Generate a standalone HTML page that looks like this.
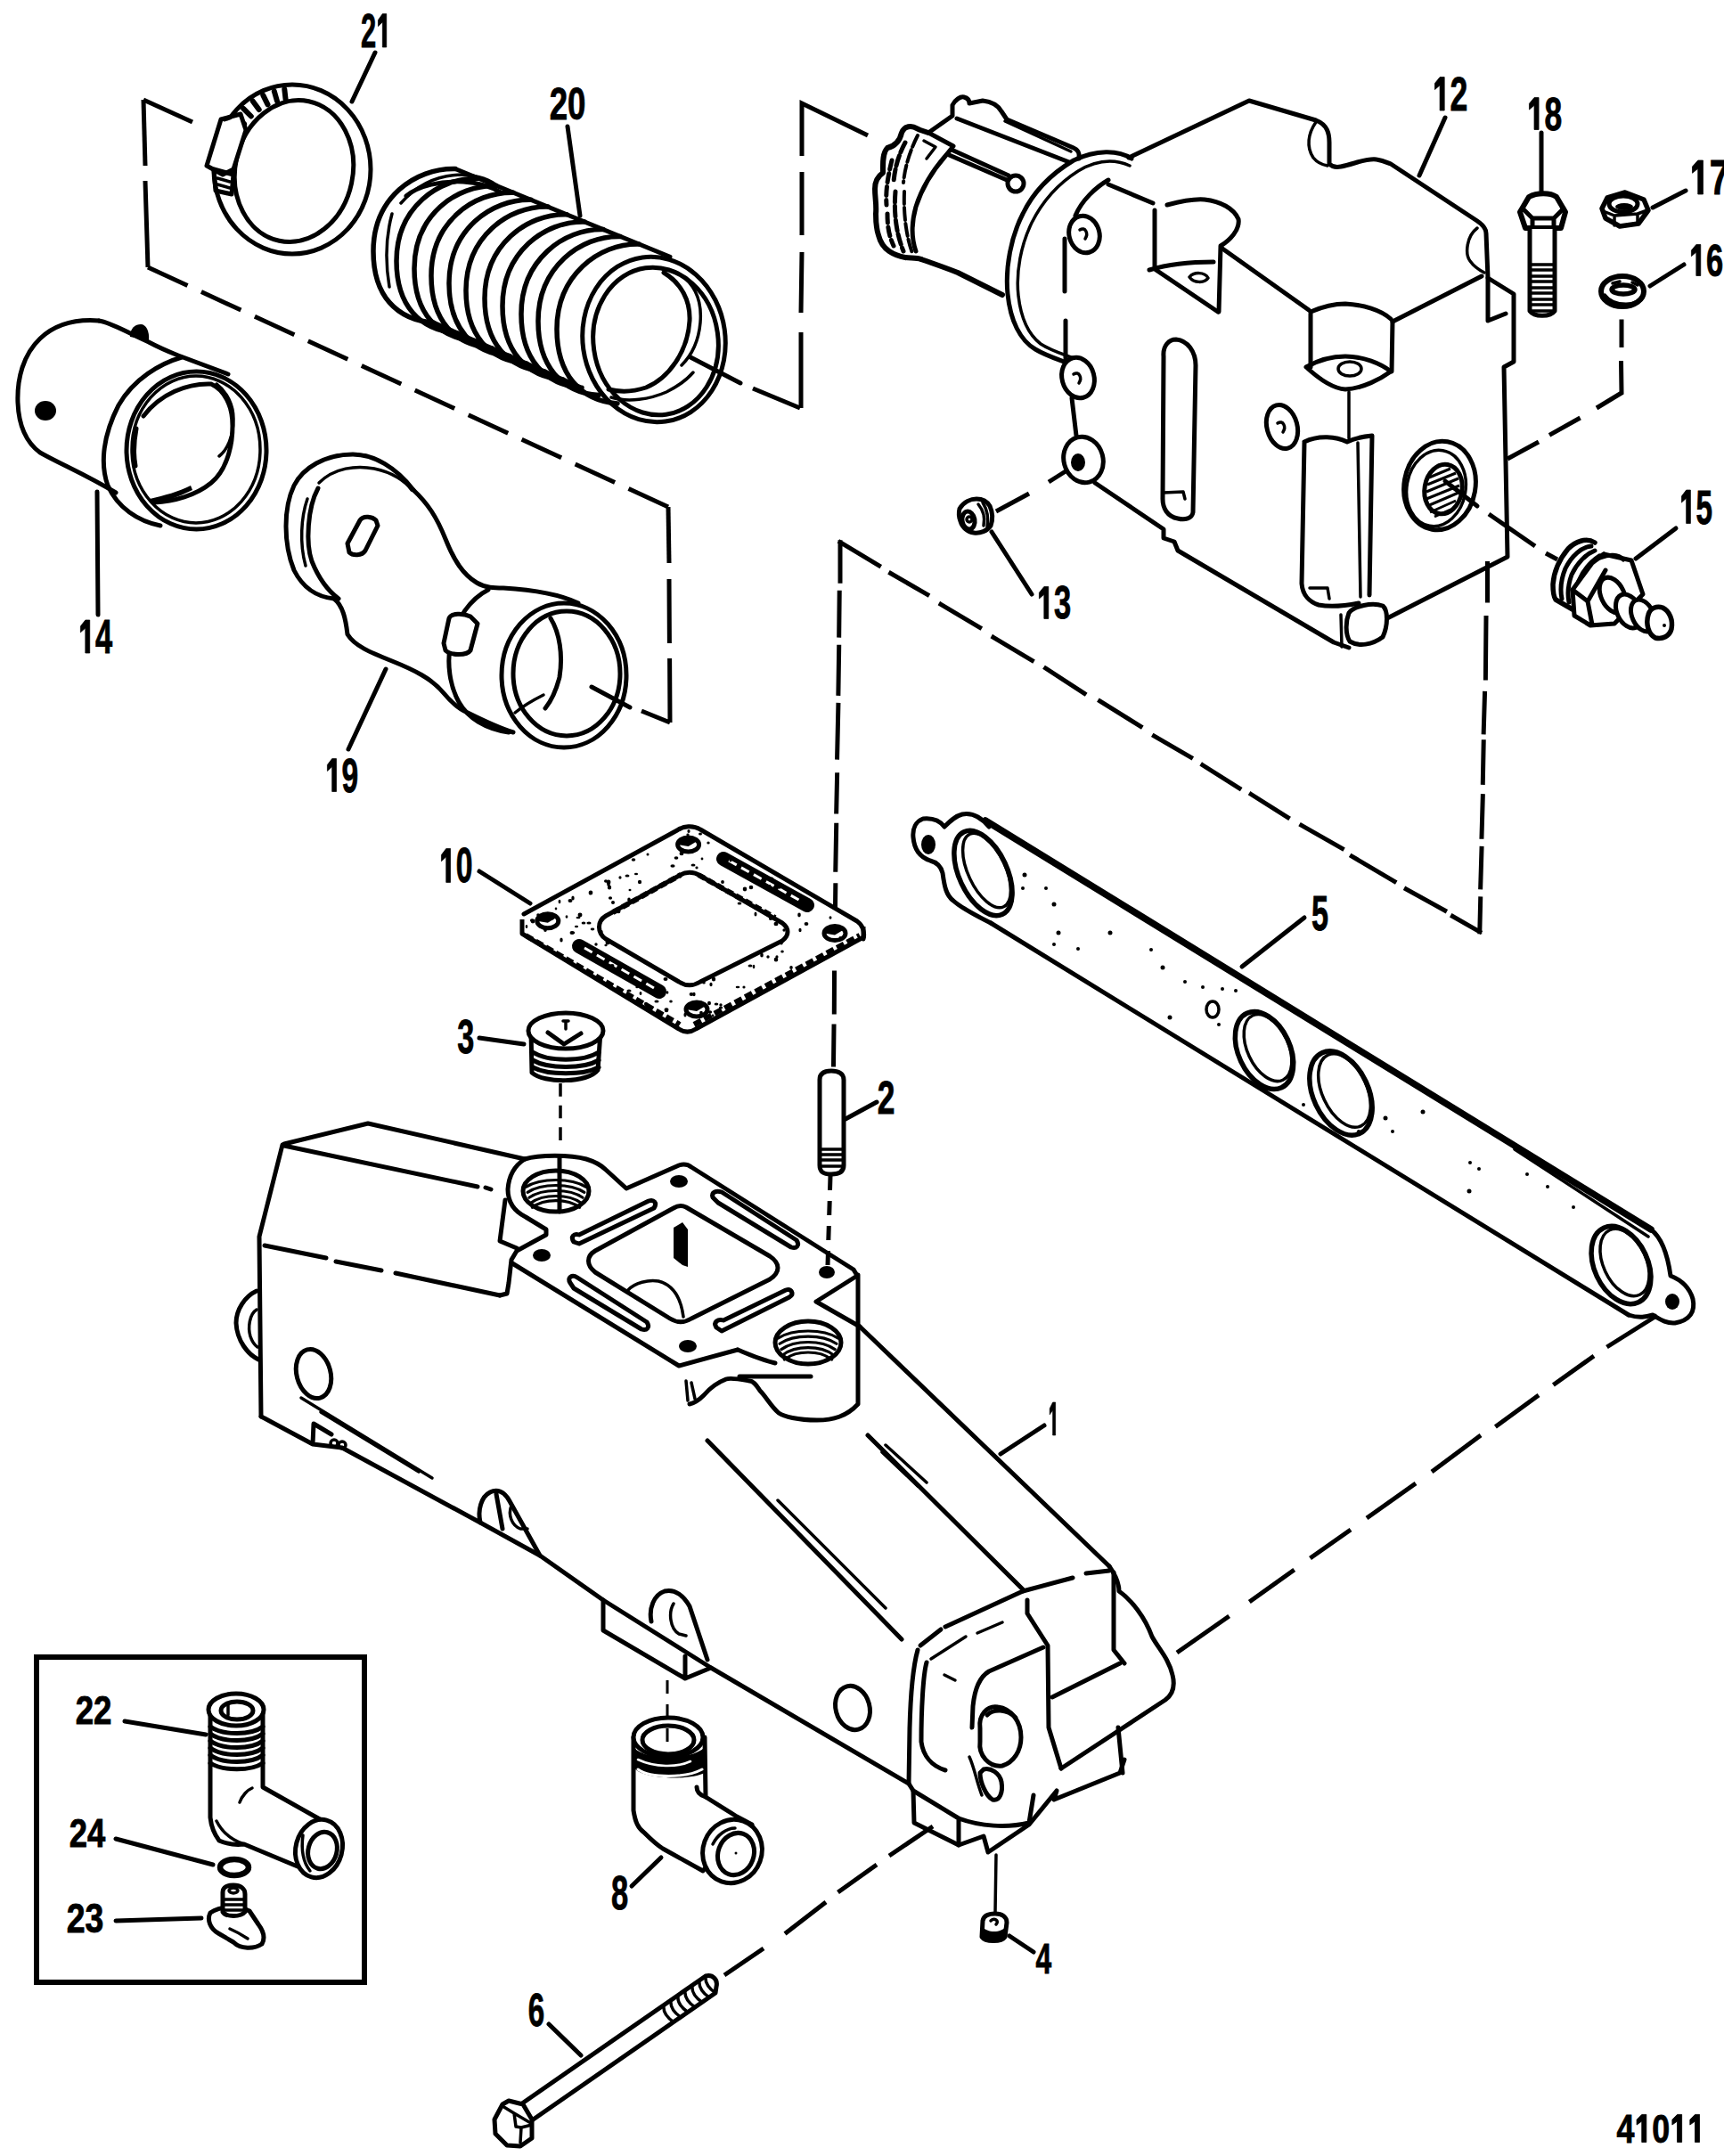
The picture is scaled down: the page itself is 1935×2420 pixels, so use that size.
<!DOCTYPE html>
<html><head><meta charset="utf-8">
<style>
html,body{margin:0;padding:0;background:#fff;width:1935px;height:2420px;overflow:hidden}
svg{display:block}
.l{fill:none;stroke:#000;stroke-width:5;stroke-linecap:round;stroke-linejoin:round}
.t{fill:none;stroke:#000;stroke-width:3.5;stroke-linecap:round;stroke-linejoin:round}
.d{fill:none;stroke:#000;stroke-width:4;stroke-dasharray:40 18}
.f{fill:#000;stroke:none}
.w{fill:#fff;stroke:#000;stroke-width:5;stroke-linejoin:round}
text{font-family:"Liberation Sans",sans-serif;font-weight:bold;fill:#000}
</style></head><body>
<svg width="1935" height="2420" viewBox="0 0 1935 2420">
<!-- 01_clamp21.svg -->
<g id="p21">
<ellipse class="l" cx="328" cy="190" rx="88" ry="95"/>
<ellipse class="w" cx="330" cy="192" rx="66" ry="80" transform="rotate(12 330 192)"/>
<path d="M267.0,150.6 L255.6,144.9 M274.1,139.3 L264.0,132.0 M281.8,130.5 L273.2,121.9 M290.7,123.1 L283.7,113.5 M300.5,117.4 L295.3,106.9 M311.0,113.5 L307.8,102.4 M320.6,111.6 L319.3,100.2" style="fill:none;stroke:#000;stroke-width:6;stroke-linecap:round"/>
<path class="w" d="M232,186 L248,134 L270,128 L276,146 L262,190 L250,196 Z"/>
<path class="l" d="M252,134 L258,132 M240,190 L262,196 L260,218 L242,214 Z"/>
<path class="t" d="M244,200 l14,4 M244,207 l14,4"/>
<path class="l" d="M421,59 L395,114"/>
</g>

<!-- 02_hose20.svg -->
<g id="p20">
<path class="l" d="M511,189.5 L752,288.3"/>
<path class="l" d="M487,362.2 L650,434.0"/>
<path class="l" style="stroke-width:5.5" d="M511.0,189.5 C466.0,188.5 419.0,221.9 419.0,281.9 C419.0,331.9 445.0,359.2 487.0,362.2"/>
<path class="t" d="M450,228 C470,205 495,196 520,196 C540,197 552,203 560,210"/>
<path class="t" d="M440,240 C434,262 432,292 437,322"/>
<path class="l" d="M456,220 C470,208 495,203 520,204 C538,205 552,210 562,216"/>
<path class="l" style="stroke-width:5.5" d="M537.0,200.2 C492.0,199.2 445.0,232.9 445.0,292.9 C445.0,342.9 471.0,370.7 513.0,373.7"/>
<path class="l" style="stroke-width:5.5" d="M557.0,208.4 C512.0,207.4 465.0,241.4 465.0,301.4 C465.0,351.4 491.0,379.5 533.0,382.5"/>
<path class="l" style="stroke-width:5.5" d="M576.0,216.2 C531.0,215.2 484.0,249.5 484.0,309.5 C484.0,359.5 510.0,387.8 552.0,390.8"/>
<path class="l" style="stroke-width:5.5" d="M596.0,224.3 C551.0,223.3 504.0,258.0 504.0,318.0 C504.0,368.0 530.0,396.6 572.0,399.6"/>
<path class="l" style="stroke-width:5.5" d="M615.0,232.1 C570.0,231.1 523.0,266.1 523.0,326.1 C523.0,376.1 549.0,405.0 591.0,408.0"/>
<path class="l" style="stroke-width:5.5" d="M636.0,240.8 C591.0,239.8 544.0,275.0 544.0,335.0 C544.0,385.0 570.0,414.2 612.0,417.2"/>
<path class="l" style="stroke-width:5.5" d="M656.0,248.9 C611.0,247.9 564.0,283.5 564.0,343.5 C564.0,393.5 590.0,423.0 632.0,426.0"/>
<path class="l" style="stroke-width:5.5" d="M677.0,257.6 C632.0,256.6 585.0,292.4 585.0,352.4 C585.0,402.4 611.0,432.3 653.0,435.3"/>
<path class="l" style="stroke-width:5.5" d="M696.0,265.4 C651.0,264.4 604.0,300.5 604.0,360.5 C604.0,410.5 630.0,440.6 672.0,443.6"/>
<path class="l" style="stroke-width:5.5" d="M717.0,274.0 C672.0,273.0 625.0,309.4 625.0,369.4 C625.0,419.4 651.0,449.9 693.0,452.9"/>
<ellipse class="l" cx="734" cy="381" rx="80" ry="93" transform="rotate(-8 734 381)"/>
<ellipse class="l" cx="736" cy="383" rx="70" ry="83" transform="rotate(-8 736 383)"/>
<path class="l" d="M745,306 C765,318 775,338 774,360 C772,395 750,425 725,435 C710,440 695,440 683,437"/>
<path class="t" d="M760,306 C780,318 788,338 786,362 C784,385 775,400 765,410"/>
<path class="t" d="M686,446 C705,452 730,448 748,440 C760,434 772,425 778,418"/>
<path class="l" d="M775,401 L831,430"/>
<path class="l" d="M637,142 L651,242"/>
</g>

<!-- 03_p14.svg -->
<g id="p14">
<path class="l" d="M111,360 C85,358 62,364 45,380 C26,398 19,425 20,452 C21,478 30,497 45,508 C70,522 95,532 130,553"/>
<path class="l" d="M111,360 C125,362 140,372 167,384 C180,391 190,395 200,399 L256,420"/>
<path class="f" d="M146,378 C146,368 152,364 158,364 C164,364 168,372 167,382 Z"/>
<ellipse class="f" cx="51" cy="461" rx="12" ry="11"/>
<path class="l" d="M204,401 C180,408 150,425 133,455 C116,488 112,520 121,545 C132,570 155,585 180,590"/>
<ellipse class="l" cx="220.5" cy="505.5" rx="78.5" ry="88.5"/>
<ellipse class="t" cx="220" cy="504.5" rx="72" ry="82.5"/>
<path class="l" d="M161,467 C180,442 210,430 237,431 C252,438 261,455 261,478 C261,505 252,530 237,542 C220,556 195,563 173,564"/>
<path class="f" d="M168,560 C185,556 200,552 214,545 L216,550 C200,558 185,563 170,566 Z"/>
<path class="l" d="M153,481 C150,497 150,512 152,523"/>
<path class="t" d="M243,431 C255,440 262,455 262,470 C262,490 255,505 246,512"/>
<path class="l" d="M109,552 L110,690"/>
</g>
<g id="p19">
<path class="l" d="M464,550 C445,525 420,510 396,510 C365,510 340,525 330,545 C318,570 318,610 330,640 C340,660 355,670 375,672"/>
<path class="t" d="M358,542 C375,525 400,522 420,526 C440,530 455,540 462,550"/>
<path class="t" d="M345,560 C338,580 336,610 343,635"/>
<path class="l" d="M357,548 C345,570 343,610 350,630 C358,650 368,663 380,672"/>
<path class="l" d="M464,550 C480,565 490,580 500,605 C510,630 520,645 535,654 C545,660 555,660 565,660 C600,662 630,668 649,677"/>
<path class="l" d="M375,672 C385,680 388,695 390,712 C398,725 415,732 440,742 C465,752 485,762 498,778 C508,790 515,796 525,800 C545,810 560,817 576,822"/>
<path class="l" d="M548,662 C528,672 512,695 506,720 C501,745 505,770 515,788 C525,806 545,818 571,822"/>
<ellipse class="l" cx="633" cy="758" rx="70" ry="81"/>
<ellipse class="l" cx="636" cy="756" rx="60" ry="70"/>
<path class="l" d="M618,694 C628,710 632,735 628,760 C625,772 620,785 612,795"/>
<path class="t" d="M578,800 C590,790 600,785 610,780"/>
<path class="w" d="M390,610 L404,584 C408,578 418,580 422,584 L424,590 L410,618 C406,624 396,624 392,620 Z"/>
<path class="w" d="M498,722 L504,694 C506,688 520,688 528,692 L536,700 L528,730 C524,736 506,736 500,730 Z"/>
<path class="l" d="M433,751 L391,841"/>
</g>

<!-- 04_dash_tl.svg -->

<!-- 05_p12.svg -->
<g id="p12">
<!-- motor -->
<path class="l" d="M1012,149 C1014,144 1018,142 1022,142 C1027,142 1030,145 1033,146 L1042,149 M1012,149 C1010,158 1004,164 996,166 C990,172 991,185 991,194 C985,198 982,204 982,212 C982,222 984,230 983,240 C983,250 984,258 986,264 C988,272 992,278 998,282 C1004,286 1010,288 1016,289 C1022,290 1028,289 1034,291" style="stroke-width:6"/>
<path class="l" d="M1001,180 C996,200 994,215 995,230 M996,240 C996,255 998,265 1003,276" style="stroke-dasharray:10 5;stroke-width:5"/>
<path class="l" d="M1016,160 C1008,175 1004,190 1003,205 M1005,215 C1003,240 1006,262 1014,282" style="stroke-dasharray:12 4;stroke-width:5"/>
<path class="l" d="M1030,152 C1022,168 1016,185 1014,205 M1015,215 C1014,240 1017,265 1024,284" style="stroke-dasharray:14 4;stroke-width:4"/>
<path class="l" d="M1044,150 L1070,164 L1062,174 C1048,190 1035,210 1028,232 C1023,250 1023,268 1028,282"/>
<path class="t" d="M1037,158 L1050,165 L1040,178"/>
<path class="l" d="M1042,149 L1069,130 L1069,118 C1072,112 1078,108 1082,109 C1086,110 1088,113 1088,116 L1103,113 C1112,114 1120,118 1124,125 L1130,134 L1205,166 C1210,168 1212,172 1211,178"/>
<path class="l" d="M1074,133 L1200,182"/>
<path class="t" d="M1128,136 L1202,170"/>
<path class="l" d="M1063,173 L1130,202 M1068,168 L1132,197"/>
<path class="l" d="M1034,291 C1045,295 1060,300 1075,306 L1125,331" style="stroke-width:6"/>

<circle class="w" cx="1140" cy="206" r="9"/>
<!-- flange -->
<path class="l" d="M1270,178 C1255,168 1230,168 1205,180 C1180,195 1160,215 1148,240 C1135,265 1128,300 1131,330 C1134,360 1145,382 1162,392 C1175,400 1190,404 1210,412"/>
<path class="t" d="M1268,186 C1250,178 1230,180 1210,192 C1188,206 1170,226 1158,250 C1146,275 1140,305 1143,332 C1146,358 1155,376 1168,386 C1180,394 1195,398 1210,404"/>
<!-- body -->
<path class="l" d="M1267,177 L1402,113 L1477,135 C1490,140 1492,150 1492,160 L1492,184 C1496,188 1500,188 1505,187 C1520,184 1535,177 1545,179 C1552,180 1556,182 1561,184 L1658,248 C1664,252 1668,256 1668,262 L1670,312 L1699,330 L1699,406 L1688,412 L1692,625 L1557,694"/>
<path class="t" d="M1477,137 C1468,150 1466,165 1474,177 C1478,182 1484,185 1490,186"/>
<path class="t" d="M1658,256 C1646,265 1644,285 1650,293 C1655,300 1660,303 1666,306"/>
<path class="l" d="M1670,312 L1670,360 L1690,352"/>
<path class="l" d="M1514,727 L1497,721 L1322,618 L1318,608 L1306,604 L1306,594 L1229,542"/>
<path class="l" d="M1244,202 C1230,210 1214,225 1207,242"/>
<path class="l" d="M1195,268 L1195,327 M1196,360 L1196,402"/>
<ellipse class="w" cx="1217" cy="263" rx="17" ry="21" transform="rotate(-15 1217 263)"/>
<path class="t" d="M1212,258 C1218,254 1222,262 1218,268"/>
<ellipse class="w" cx="1210" cy="424" rx="18" ry="23" transform="rotate(-15 1210 424)"/>
<path class="t" d="M1205,420 C1211,416 1215,424 1211,430"/>
<path class="l" d="M1203,447 L1208,489"/>
<ellipse class="w" cx="1216" cy="516" rx="22" ry="26" transform="rotate(-15 1216 516)"/>
<ellipse class="f" cx="1210" cy="519" rx="8" ry="10"/>
<!-- top face -->
<path class="l" d="M1244,207 L1294,228"/>
<path class="l" d="M1296,236 L1296,302 L1367,350 M1290,303 C1310,297 1335,294 1362,294"/>
<path class="l" d="M1310,230 C1325,226 1340,223 1352,224 C1370,226 1385,234 1390,246 C1392,258 1380,270 1370,276 L1368,350"/>
<path class="t" d="M1335,311 C1340,305 1352,305 1356,312 C1352,318 1340,318 1335,311"/>
<path class="l" d="M1372,279 L1469,348"/>
<path class="l" d="M1563,361 L1663,310"/>
<path class="l" d="M1471,350 C1485,344 1498,341 1510,341 C1530,342 1550,348 1561,358 M1471,352 L1471,412 M1563,360 L1562,417"/>
<path class="l" d="M1466,412 C1480,404 1495,400 1510,400 C1530,400 1550,408 1561,417 C1550,425 1530,436 1510,437 C1495,436 1480,425 1466,412"/>
<ellipse class="t" cx="1515" cy="414" rx="13" ry="8"/>
<path class="t" d="M1514,440 L1514,492"/>
<!-- slots -->
<path class="l" d="M1306,400 C1305,388 1312,381 1320,381 C1333,382 1342,395 1342,410 L1339,575 C1338,582 1330,584 1322,582 C1310,580 1305,570 1305,560 Z"/>
<path class="t" d="M1306,553 L1328,552 L1330,560"/>
<path class="l" d="M1464,496 C1480,488 1500,490 1512,496 C1520,492 1530,490 1540,489 L1537,668 M1464,496 L1461,655 C1462,668 1470,676 1480,679 C1495,682 1510,680 1525,677"/>
<path class="t" d="M1524,497 L1527,670 M1470,660 L1490,660 L1492,672"/>
<ellipse class="w" cx="1439" cy="479" rx="17" ry="25" transform="rotate(-15 1439 479)"/>
<path class="t" d="M1434,475 C1440,471 1444,479 1440,485"/>
<path class="w" d="M1514,688 C1520,680 1540,676 1552,680 C1558,685 1558,702 1552,715 C1540,724 1525,726 1515,720 C1510,712 1510,698 1514,688 Z"/>
<path class="t" d="M1505,690 L1506,726"/>
<!-- port -->
<ellipse class="l" cx="1616" cy="545" rx="40" ry="50" transform="rotate(10 1616 545)"/>
<ellipse class="t" cx="1612" cy="548" rx="33" ry="43" transform="rotate(10 1612 548)"/>
<ellipse class="l" cx="1620" cy="549" rx="21" ry="28" transform="rotate(10 1620 549)"/>
<path d="M1604,536 L1628,526 M1602,544 L1634,531 M1601,552 L1637,537 M1601,560 L1638,545 M1602,568 L1637,553 M1605,575 L1634,562 M1610,580 L1628,572" style="fill:none;stroke:#000;stroke-width:3"/>
<path class="l" d="M1622,540 L1658,568"/>
<path class="l" d="M1622,132 L1593,197"/>
</g>

<!-- 06_small_tr.svg -->
<g id="p18">
<path class="l" d="M1730,149 L1730,214"/>
<path class="w" d="M1706,238 L1716,221 C1725,216 1740,216 1747,221 L1757,238 L1752,256 L1712,256 Z" style="stroke-width:6"/>
<path class="l" d="M1709,234 L1720,245 L1744,245 L1755,234 M1720,245 L1720,256 M1744,245 L1744,256"/>
<path class="w" d="M1717,257 L1717,349 C1722,356 1740,356 1745,349 L1745,257"/>
<path class="t" d="M1719,297 L1743,297 M1719,303 L1743,303 M1719,310 L1743,310 M1719,316 L1743,316 M1719,323 L1743,323 M1719,329 L1743,329 M1719,336 L1743,336 M1719,342 L1743,342 M1719,349 L1743,349"/>
</g>
<g id="p17">
<path class="w" d="M1798,234 L1804,222 L1824,216 L1845,224 L1850,236 L1839,251 L1818,254 L1802,245 Z" style="stroke-width:5.5"/>
<ellipse class="l" cx="1822" cy="229" rx="16" ry="9" style="stroke-width:5"/>
<ellipse class="f" cx="1823" cy="232" rx="10" ry="4"/>
<path class="t" d="M1802,238 L1812,242 L1812,253 M1812,242 L1838,240 L1838,251 M1838,240 L1849,236"/>
<path class="l" d="M1855,233 L1892,214"/>
</g>
<g id="p16">
<ellipse class="l" cx="1821" cy="327" rx="24" ry="17" style="stroke-width:6"/>
<ellipse class="l" cx="1822" cy="325" rx="13" ry="5" style="stroke-width:5.5"/>
<path class="l" d="M1801,332 C1806,339 1815,342 1825,342 C1835,342 1841,338 1844,332"/><path class="t" d="M1810,318 L1818,316 M1832,317 L1838,320"/>
<path class="l" d="M1852,321 L1890,297"/>
</g>
<g id="p15">
<path class="l" d="M1790,609 C1780,603 1768,608 1760,616 C1750,628 1744,642 1743,656 C1743,665 1744,670 1746,673 L1765,684" style="stroke-width:5.5"/>
<path class="l" d="M1786,613 C1775,614 1764,624 1757,638 C1752,650 1751,662 1753,672"/>
<path class="l" d="M1790,618 C1780,622 1770,632 1764,645 C1760,656 1759,666 1761,676"/>
<path class="l" d="M1795,624 C1786,630 1777,640 1772,652 C1769,660 1768,668 1769,674"/>
<path class="w" d="M1765,662 L1787,632 L1800,622 L1831,629 L1844,667 L1812,700 L1785,702 L1767,691 Z" style="stroke-width:5"/>
<path class="l" d="M1765,662 L1782,675 L1787,701 M1782,675 L1802,640 M1800,622 L1792,628"/>
<path class="l" d="M1796,626 C1806,622 1816,622 1822,628"/>
<ellipse class="w" cx="1810" cy="668" rx="13" ry="21" transform="rotate(-25 1810 668)" style="stroke-width:5"/>
<ellipse class="w" cx="1828" cy="686" rx="13" ry="20" transform="rotate(-25 1828 686)" style="stroke-width:5"/>
<ellipse class="w" cx="1844" cy="691" rx="12" ry="19" transform="rotate(-25 1844 691)" style="stroke-width:5"/>
<path class="w" d="M1850,690 C1852,682 1860,680 1866,682 C1874,686 1878,696 1876,706 C1874,714 1866,718 1858,716 C1850,712 1847,700 1850,690 Z" style="stroke-width:5.5"/>
<circle class="f" cx="1868" cy="702" r="2"/>
<path class="l" d="M1836,627 L1881,593"/>
</g>


<!-- 06b_p13.svg -->
<g id="p13">
<path class="w" d="M1077,571 C1082,563 1090,560 1096,560 C1103,560 1108,563 1111,568 C1114,575 1115,582 1112,590 C1108,596 1100,599 1093,598 C1086,597 1080,592 1078,585 C1076,580 1076,575 1077,571 Z"/>
<ellipse class="l" cx="1087" cy="584" rx="7" ry="10" transform="rotate(-10 1087 584)"/>
<circle class="t" cx="1088" cy="583" r="3"/>
<path class="t" d="M1098,566 C1103,572 1106,580 1104,590 M1103,564 C1108,572 1110,580 1108,592"/>
<path class="l" d="M1113,597 L1158,667"/>
</g>

<!-- 07_gaskets.svg -->
<g id="p10">
<path class="l" d="M588,1026 L760,932 C767,927 778,926 786,931 L962,1034 C968,1038 971,1046 969,1054"/>
<path d="M586,1032 L586,1048 L762,1155 C768,1159 775,1159 781,1155 L969,1052 L969,1040" style="fill:none;stroke:#000;stroke-width:5;stroke-linejoin:round"/>
<path d="M590,1050 L763,1150 M779,1150 L965,1050" style="fill:none;stroke:#000;stroke-width:6;stroke-dasharray:9 4"/>
<path class="l" d="M680,1028 L762,983 C770,978 778,978 786,983 L878,1036 C886,1042 886,1050 878,1056 L786,1102 C778,1107 770,1107 762,1102 L680,1054 C670,1047 670,1034 680,1028 Z"/>
<path d="M688,1024 L764,982 M784,982 L870,1030" style="fill:none;stroke:#000;stroke-width:6;stroke-dasharray:8 4"/>
<path d="M812,964 L906,1016" style="fill:none;stroke:#000;stroke-width:16;stroke-linecap:round"/>
<path d="M818,966 L900,1012" style="fill:none;stroke:#fff;stroke-width:3;stroke-dasharray:10 6"/>
<path d="M650,1062 L740,1113" style="fill:none;stroke:#000;stroke-width:16;stroke-linecap:round"/>
<path d="M656,1064 L734,1109" style="fill:none;stroke:#fff;stroke-width:3;stroke-dasharray:10 6"/>
<ellipse class="l" cx="772.6" cy="948" rx="12" ry="8" style="stroke-width:5"/>
<path class="f" d="M760.6,948 C760.6,940 776.6,938 782.6,944 L772.6,950 Z"/>
<ellipse class="l" cx="614.8" cy="1033.7" rx="12" ry="8" style="stroke-width:5"/>
<path class="f" d="M602.8,1033.7 C602.8,1025.7 618.8,1023.7 624.8,1029.7 L614.8,1035.7 Z"/>
<ellipse class="l" cx="937" cy="1047.6" rx="12" ry="8" style="stroke-width:5"/>
<path class="f" d="M925,1047.6 C925,1039.6 941,1037.6 947,1043.6 L937,1049.6 Z"/>
<ellipse class="l" cx="782" cy="1133" rx="12" ry="8" style="stroke-width:5"/>
<path class="f" d="M770,1133 C770,1125 786,1123 792,1129 L782,1135 Z"/>
<g class="f"><ellipse cx="711" cy="965" rx="2.3" ry="1.8"/><ellipse cx="612" cy="1044" rx="1.8" ry="2.0"/><ellipse cx="604" cy="1027" rx="1.8" ry="1.7"/><ellipse cx="749" cy="1114" rx="1.4" ry="1.7"/><ellipse cx="706" cy="1112" rx="2.6" ry="1.5"/><ellipse cx="658" cy="1060" rx="2.0" ry="2.1"/><ellipse cx="830" cy="1014" rx="2.4" ry="1.6"/><ellipse cx="795" cy="946" rx="1.7" ry="1.6"/><ellipse cx="888" cy="1086" rx="1.8" ry="1.9"/><ellipse cx="682" cy="1058" rx="2.5" ry="2.4"/><ellipse cx="787" cy="1125" rx="2.4" ry="1.3"/><ellipse cx="864" cy="995" rx="1.3" ry="2.2"/><ellipse cx="747" cy="1099" rx="2.5" ry="1.9"/><ellipse cx="647" cy="1040" rx="2.1" ry="1.3"/><ellipse cx="877" cy="1058" rx="1.8" ry="2.5"/><ellipse cx="598" cy="1034" rx="2.4" ry="2.4"/><ellipse cx="737" cy="1124" rx="2.6" ry="1.6"/><ellipse cx="620" cy="1031" rx="1.4" ry="1.5"/><ellipse cx="796" cy="1126" rx="2.0" ry="2.2"/><ellipse cx="694" cy="1023" rx="2.5" ry="2.2"/><ellipse cx="725" cy="1127" rx="2.1" ry="2.3"/><ellipse cx="811" cy="990" rx="1.9" ry="2.0"/><ellipse cx="628" cy="1012" rx="1.4" ry="2.3"/><ellipse cx="820" cy="965" rx="1.6" ry="2.5"/><ellipse cx="685" cy="1008" rx="2.1" ry="1.7"/><ellipse cx="727" cy="959" rx="1.5" ry="1.6"/><ellipse cx="718" cy="990" rx="2.1" ry="2.2"/><ellipse cx="788" cy="964" rx="1.4" ry="1.4"/><ellipse cx="688" cy="1013" rx="2.0" ry="2.1"/><ellipse cx="790" cy="1103" rx="1.8" ry="1.6"/><ellipse cx="714" cy="981" rx="2.1" ry="1.3"/><ellipse cx="675" cy="1046" rx="1.7" ry="1.9"/><ellipse cx="687" cy="1084" rx="2.5" ry="2.1"/><ellipse cx="905" cy="1037" rx="2.4" ry="1.9"/><ellipse cx="835" cy="1108" rx="1.6" ry="1.6"/><ellipse cx="871" cy="1037" rx="2.5" ry="2.2"/><ellipse cx="715" cy="1108" rx="1.7" ry="1.3"/><ellipse cx="787" cy="1137" rx="1.9" ry="2.2"/><ellipse cx="753" cy="1124" rx="1.8" ry="1.6"/><ellipse cx="684" cy="996" rx="2.2" ry="2.5"/><ellipse cx="680" cy="1061" rx="1.6" ry="1.3"/><ellipse cx="687" cy="1024" rx="1.7" ry="1.8"/><ellipse cx="809" cy="1131" rx="2.2" ry="1.6"/><ellipse cx="748" cy="1134" rx="2.3" ry="2.3"/><ellipse cx="786" cy="936" rx="2.0" ry="1.6"/><ellipse cx="755" cy="972" rx="2.6" ry="1.7"/><ellipse cx="655" cy="1036" rx="2.4" ry="1.6"/><ellipse cx="798" cy="1105" rx="1.6" ry="2.3"/><ellipse cx="630" cy="1055" rx="1.7" ry="2.5"/><ellipse cx="683" cy="993" rx="1.9" ry="1.5"/><ellipse cx="880" cy="1044" rx="1.6" ry="1.8"/><ellipse cx="801" cy="1099" rx="2.2" ry="2.5"/><ellipse cx="932" cy="1030" rx="1.5" ry="1.8"/><ellipse cx="769" cy="1139" rx="1.6" ry="2.6"/><ellipse cx="800" cy="1140" rx="1.5" ry="1.4"/><ellipse cx="636" cy="1029" rx="1.4" ry="1.8"/><ellipse cx="651" cy="1027" rx="2.5" ry="2.4"/><ellipse cx="663" cy="1002" rx="2.3" ry="2.6"/><ellipse cx="748" cy="1133" rx="2.5" ry="1.7"/><ellipse cx="848" cy="1026" rx="1.5" ry="2.5"/><ellipse cx="828" cy="1108" rx="2.3" ry="1.3"/><ellipse cx="797" cy="1136" rx="2.2" ry="1.8"/><ellipse cx="788" cy="984" rx="1.8" ry="1.7"/><ellipse cx="707" cy="999" rx="1.5" ry="1.3"/><ellipse cx="875" cy="996" rx="1.7" ry="1.8"/><ellipse cx="778" cy="971" rx="2.5" ry="1.5"/><ellipse cx="661" cy="1036" rx="2.6" ry="1.6"/><ellipse cx="897" cy="1027" rx="1.8" ry="2.4"/><ellipse cx="776" cy="1116" rx="2.4" ry="1.9"/><ellipse cx="719" cy="1115" rx="1.4" ry="1.9"/><ellipse cx="855" cy="1072" rx="1.8" ry="2.5"/><ellipse cx="696" cy="985" rx="1.6" ry="1.8"/><ellipse cx="649" cy="1030" rx="2.5" ry="1.3"/><ellipse cx="706" cy="1010" rx="1.8" ry="2.4"/><ellipse cx="665" cy="1043" rx="2.3" ry="1.4"/><ellipse cx="624" cy="1020" rx="1.3" ry="1.4"/><ellipse cx="704" cy="983" rx="2.5" ry="1.6"/><ellipse cx="871" cy="1077" rx="2.3" ry="2.5"/><ellipse cx="862" cy="1074" rx="1.7" ry="1.7"/><ellipse cx="642" cy="1047" rx="2.5" ry="2.1"/><ellipse cx="779" cy="1116" rx="1.6" ry="2.2"/><ellipse cx="809" cy="1128" rx="1.7" ry="1.7"/><ellipse cx="846" cy="1085" rx="1.3" ry="2.3"/><ellipse cx="640" cy="1011" rx="2.5" ry="2.1"/><ellipse cx="825" cy="1082" rx="2.5" ry="1.3"/><ellipse cx="773" cy="933" rx="1.6" ry="1.9"/><ellipse cx="866" cy="987" rx="2.5" ry="2.5"/><ellipse cx="878" cy="1068" rx="1.8" ry="1.6"/><ellipse cx="869" cy="999" rx="1.9" ry="1.9"/><ellipse cx="842" cy="1084" rx="2.5" ry="1.5"/><ellipse cx="843" cy="996" rx="2.3" ry="2.3"/><ellipse cx="765" cy="958" rx="2.4" ry="2.3"/><ellipse cx="597" cy="1033" rx="2.1" ry="1.7"/><ellipse cx="669" cy="1060" rx="1.7" ry="1.8"/><ellipse cx="643" cy="1047" rx="2.3" ry="1.4"/><ellipse cx="898" cy="1044" rx="1.6" ry="2.3"/><ellipse cx="772" cy="937" rx="1.6" ry="1.4"/><ellipse cx="591" cy="1040" rx="1.3" ry="2.0"/><ellipse cx="643" cy="1008" rx="1.7" ry="2.6"/><ellipse cx="683" cy="990" rx="2.4" ry="2.6"/><ellipse cx="782" cy="974" rx="1.6" ry="1.4"/><ellipse cx="943" cy="1053" rx="1.4" ry="1.9"/><ellipse cx="865" cy="1031" rx="2.2" ry="1.9"/><ellipse cx="872" cy="1074" rx="1.6" ry="1.8"/><ellipse cx="702" cy="1095" rx="2.1" ry="2.2"/><ellipse cx="836" cy="998" rx="2.3" ry="2.4"/><ellipse cx="776" cy="980" rx="2.2" ry="1.5"/><ellipse cx="759" cy="963" rx="2.4" ry="1.7"/><ellipse cx="680" cy="989" rx="2.0" ry="1.8"/><ellipse cx="804" cy="1127" rx="2.3" ry="1.6"/></g>
<path class="l" d="M538,978 L595,1014"/>
</g>
<g id="p3">
<path class="w" d="M596,1158 L597,1204 C610,1216 660,1216 671,1201 L674,1158"/>
<ellipse class="w" cx="635" cy="1157" rx="42" ry="20"/>
<path class="l" d="M615,1159 L633,1172 L652,1160"/>
<path class="t" d="M632,1146 L638,1146 M635,1146 L635,1155"/>
<path class="l" d="M598,1181 C615,1192 655,1192 672,1181 M598,1190 C615,1200 655,1200 672,1190 M598,1198 C615,1207 655,1207 672,1198"/>
<path class="l" d="M538,1165 L588,1172"/>
</g>
<g id="p2">
<path class="w" d="M920,1212 C920,1204 926,1202 933,1202 C941,1202 947,1205 947,1212 L947,1308 C947,1316 941,1318 933,1318 C925,1318 920,1316 920,1308 Z"/>
<path class="t" d="M921,1290 L946,1290 M921,1296 L946,1296 M921,1302 L946,1302 M921,1309 L946,1309"/>
<path class="l" d="M949,1256 L984,1237"/>
</g>
<g id="p5">
<path class="l" d="M1110,928 C1100,916 1090,912 1080,914 C1072,916 1066,922 1060,928 C1054,920 1046,918 1036,919 C1028,922 1024,930 1025,940 C1026,952 1032,962 1044,966 C1052,968 1056,972 1058,980 C1060,995 1062,1005 1070,1011 C1080,1020 1096,1028 1112,1036"/>
<path class="l" d="M1106,921 L1853,1380" style="stroke-width:7.5"/>
<path class="t" d="M1700,1290 L1850,1388"/>
<path class="l" d="M1112,1036 L1828,1476"/>
<path class="l" d="M1853,1380 C1866,1390 1872,1410 1875,1432 C1885,1436 1896,1444 1900,1458 C1903,1472 1897,1482 1880,1485 C1870,1486 1862,1480 1855,1476 C1848,1478 1840,1480 1828,1476"/>
<ellipse class="f" cx="1042" cy="948" rx="8" ry="11"/>
<ellipse class="f" cx="1877" cy="1461" rx="8" ry="9"/>
<ellipse class="l" cx="1103.5" cy="980" rx="27" ry="51" transform="rotate(-25 1103.5 980)" style="stroke-width:5.5"/>
<ellipse class="t" cx="1107.5" cy="977" rx="21" ry="45" transform="rotate(-25 1107.5 977)"/>
<ellipse class="l" cx="1419" cy="1179" rx="29" ry="46" transform="rotate(-25 1419 1179)" style="stroke-width:5.5"/>
<ellipse class="t" cx="1423" cy="1176" rx="23" ry="40" transform="rotate(-25 1423 1176)"/>
<ellipse class="l" cx="1505" cy="1227" rx="31" ry="50" transform="rotate(-25 1505 1227)" style="stroke-width:5.5"/>
<ellipse class="t" cx="1509" cy="1224" rx="25" ry="44" transform="rotate(-25 1509 1224)"/>
<ellipse class="l" cx="1819.5" cy="1420" rx="30" ry="46" transform="rotate(-25 1819.5 1420)" style="stroke-width:5.5"/>
<ellipse class="t" cx="1823.5" cy="1417" rx="24" ry="40" transform="rotate(-25 1823.5 1417)"/>
<ellipse class="t" cx="1361" cy="1133" rx="7" ry="9"/>
<g class="f">
<circle cx="1150" cy="982" r="2.5"/><circle cx="1148" cy="997" r="2"/><circle cx="1174" cy="997" r="2"/><circle cx="1183" cy="1015" r="2.5"/><circle cx="1188" cy="1047" r="2.5"/><circle cx="1183" cy="1060" r="2"/><circle cx="1210" cy="1065" r="2"/><circle cx="1246" cy="1047" r="2.5"/><circle cx="1292" cy="1066" r="2"/><circle cx="1305" cy="1086" r="2.5"/><circle cx="1330" cy="1102" r="2"/><circle cx="1350" cy="1108" r="2"/><circle cx="1372" cy="1110" r="2"/><circle cx="1387" cy="1112" r="2"/><circle cx="1313" cy="1142" r="2.5"/><circle cx="1368" cy="1150" r="2"/><circle cx="1525" cy="1270" r="2"/><circle cx="1555" cy="1255" r="2.5"/><circle cx="1563" cy="1270" r="2"/><circle cx="1597" cy="1248" r="2.5"/><circle cx="1650" cy="1305" r="2"/><circle cx="1660" cy="1312" r="2"/><circle cx="1649" cy="1337" r="2.5"/><circle cx="1714" cy="1318" r="2"/><circle cx="1737" cy="1332" r="2"/><circle cx="1766" cy="1355" r="2"/><circle cx="1463" cy="1240" r="2"/>
</g>
<path class="l" d="M1394,1085 L1464,1030"/>
</g>

<!-- 08_manifold.svg -->
<g id="p1">
<!-- upper-left block -->
<path class="l" d="M319,1284 L413,1261 L589,1301"/>
<path class="l" d="M319,1286 L536,1332 M545,1333 L551,1335"/>
<path class="l" d="M317,1285 L291,1388 L293,1590"/>
<path class="l" d="M288,1449 C275,1455 265,1470 265,1485 C266,1505 278,1520 290,1526"/>
<path class="t" d="M288,1470 C280,1475 278,1490 281,1500 C283,1506 286,1510 289,1512"/>
<path class="l" d="M297,1398 L366,1412 M377,1416 L428,1426 M444,1429 L561,1454"/>
<path class="l" d="M589,1301 C578,1308 571,1320 570,1335 C570,1350 578,1360 590,1366 L613,1380 L613,1386 L580,1404 L574,1414 L571,1440 L569,1452 L561,1454"/>
<path class="l" d="M567,1347 L561,1393 L580,1401"/>
<path class="l" d="M589,1301 C605,1296 640,1296 658,1301 C668,1304 675,1308 680,1313 L703,1334 L762,1308 C768,1306 772,1307 776,1310 L958,1425 L961,1430"/>
<ellipse class="l" cx="624" cy="1337" rx="37" ry="23"/>
<path class="t" d="M590.2,1332.3 C607.1,1321.9 640.9,1321.9 657.8,1332.3 M592.1,1338.3 C608.0,1327.9 640.0,1327.9 655.9,1338.3 M593.9,1344.2 C609.0,1333.9 639.0,1333.9 654.1,1344.2 M595.8,1350.2 C609.9,1339.9 638.1,1339.9 652.2,1350.2 M597.4,1355.3 C610.7,1345.0 637.3,1345.0 650.6,1355.3" style="stroke-width:3.2"/>
<path class="l" d="M628,1300 L628,1360"/>
<ellipse class="w" cx="352" cy="1542" rx="19" ry="28" transform="rotate(-15 352 1542)"/>
<!-- flange -->
<path class="l" d="M575,1418 L762,1533 L828,1515"/>
<path class="l" d="M963,1431 L963,1576 C950,1590 935,1594 917,1594 C895,1594 880,1590 874,1586 C865,1578 860,1568 853,1561 C848,1553 845,1550 841,1550 C830,1548 820,1546 815,1548 C802,1553 795,1560 790,1566 C784,1572 779,1575 774,1576"/>
<path class="t" d="M770,1550 L772,1572 M776,1552 L780,1570"/>
<path class="l" d="M830,1545 L910,1545"/>
<ellipse class="w" cx="907" cy="1507" rx="37" ry="24"/>
<path class="t" d="M873.2,1502.1 C890.1,1491.3 923.9,1491.3 940.8,1502.1 M875.1,1508.3 C891.0,1497.5 923.0,1497.5 938.9,1508.3 M876.9,1514.6 C892.0,1503.8 922.0,1503.8 937.1,1514.6 M878.8,1520.8 C892.9,1510.0 921.1,1510.0 935.2,1520.8 M880.4,1526.1 C893.7,1515.3 920.3,1515.3 933.6,1526.1" style="stroke-width:3.2"/>
<path class="l" d="M828,1515 C840,1520 850,1525 870,1530"/>
<path class="l" d="M916,1461 L962,1432 M916,1461 L965,1489"/>
<path class="l" d="M770,1355 L864,1410 C876,1418 876,1428 864,1436 L776,1480 C768,1485 760,1485 752,1480 L668,1428 C658,1420 658,1410 668,1404 L756,1356 C761,1353 766,1353 770,1355 Z"/>
<path class="t" d="M705,1448 C712,1440 728,1436 739,1438 C755,1442 764,1455 767,1478"/>
<path class="f" d="M756,1378 L766,1372 L772,1380 L772,1422 L766,1420 L756,1412 Z"/>
<path class="l" d="M644,1394 C640,1388 644,1384 650,1386 L728,1348 C734,1346 738,1350 734,1356 L650,1396 Z"/>
<path class="l" d="M800,1344 C798,1338 804,1336 810,1338 L894,1392 C898,1398 894,1402 888,1400 L806,1350 Z"/>
<path class="l" d="M640,1440 C636,1434 642,1430 648,1434 L726,1484 C730,1490 726,1494 720,1492 L644,1446 Z"/>
<path class="l" d="M804,1490 C800,1484 806,1480 812,1482 L882,1448 C888,1446 892,1452 886,1456 L810,1494 Z"/>
<ellipse class="f" cx="762" cy="1326" rx="10" ry="7"/>
<ellipse class="f" cx="608" cy="1409" rx="10" ry="7"/>
<ellipse class="f" cx="928" cy="1428" rx="9" ry="7"/>
<ellipse class="f" cx="772" cy="1511" rx="10" ry="7"/>
<!-- long body -->
<path class="l" d="M965,1489 L1245,1758"/>
<path class="l" d="M974,1611 L1148,1784"/>
<path class="t" d="M990,1630 L1030,1668 M994,1622 L1040,1664"/>
<path class="l" d="M794,1617 L1012,1840"/>
<path class="t" d="M873,1684 L994,1805"/>
<path class="l" d="M293,1590 L297,1592 L351,1621 L352,1598 L372,1610 M351,1621 L384,1625 L539,1709 L606,1746 L677,1796 L798,1872 L1020,2002"/>
<path class="t" d="M338,1569 L485,1659"/>
<path class="t" d="M360,1585 L470,1652"/>
<circle class="t" cx="375" cy="1620" r="4"/><circle class="t" cx="384" cy="1622" r="4"/>
<path class="l" d="M539,1709 C536,1695 540,1680 550,1675 C558,1671 566,1674 572,1685 L606,1746"/>
<path class="t" d="M574,1690 C570,1700 574,1712 584,1716 L592,1716"/>
<path class="l" d="M557,1677 L564,1716"/>
<path class="l" d="M677,1796 L677,1830 L769,1884 L798,1872 M769,1859 L769,1884"/>
<path class="l" d="M731,1820 C728,1805 734,1790 746,1786 C758,1783 768,1792 774,1803 L794,1863"/>
<path class="t" d="M756,1800 C750,1810 752,1828 762,1834 L770,1836"/>
<ellipse class="l" cx="957" cy="1917" rx="19" ry="25" transform="rotate(-15 957 1917)"/>
<!-- right end -->
<path class="l" d="M1245,1758 C1252,1768 1256,1776 1256,1786 C1270,1796 1285,1815 1293,1837 C1300,1850 1312,1862 1316,1880 C1319,1892 1316,1902 1308,1908 L1191,1985"/>
<path class="l" d="M1148,1786 L1204,1771 M1219,1766 L1245,1763"/>
<path class="l" d="M1148,1786 L1061,1826 M1056,1829 L1033,1847"/>
<path class="l" d="M1030,1852 C1025,1870 1022,1900 1021,1940 L1020,2002 L1025,2010 L1026,2046 L1076,2071 L1104,2061 L1109,2079 L1155,2048 L1186,2010 L1183,2020 L1257,1990 L1262,1975"/>
<path class="l" d="M1040,1866 C1036,1880 1034,1920 1034,1955 C1036,1970 1045,1982 1061,1987"/>
<path class="t" d="M1045,1862 L1084,1837 M1097,1833 L1125,1821"/>
<path class="l" d="M1153,1796 L1153,1811 L1176,1847 L1177,1939 L1191,1985"/>
<path class="l" d="M1250,1765 L1250,1852 L1262,1867"/>
<path class="l" d="M1181,1905 L1257,1867"/>
<path class="l" d="M1171,1849 L1110,1876 C1100,1882 1094,1895 1092,1915 L1091,1939"/>
<path class="l" d="M1255,1939 L1260,1990"/>
<path class="l" d="M1025,2010 L1076,2041 L1076,2071 M1076,2041 C1100,2050 1130,2052 1155,2046 L1160,2015"/>
<path class="t" d="M1060,1880 L1072,1886"/>
<path class="l" d="M1100,1940 C1098,1925 1108,1914 1120,1916 C1135,1918 1146,1932 1146,1950 C1146,1965 1138,1978 1125,1982 C1110,1984 1098,1970 1100,1955 Z"/>
<path class="l" d="M1108,1925 C1115,1918 1130,1918 1140,1928"/>
<path class="l" d="M1100,1990 C1100,2000 1106,2015 1114,2020 C1122,2022 1126,2012 1124,2000 C1122,1990 1112,1984 1104,1986 Z"/>
<path class="t" d="M1088,1972 C1094,1985 1096,2000 1102,2015"/>
<path class="l" d="M1123,1632 L1172,1600"/>
</g>

<!-- 09_bottom.svg -->
<g id="p8">
<path class="w" d="M711,1950 L711,2032 C713,2045 716,2052 723,2057 C730,2064 736,2070 744,2075 L789,2100 L822,2060 L844,2048 L827,2039 L792,2017 L791,1950 Z"/>
<path class="l" d="M782,2006 C782,2012 786,2015 792,2017"/>
<ellipse class="w" cx="750" cy="1950" rx="39" ry="22"/>
<ellipse class="l" cx="750" cy="1953" rx="29" ry="16"/>
<path class="f" d="M712,1962 C725,1976 775,1976 790,1962 L791,1990 C775,1998 725,1998 712,1985 Z"/>
<path class="l" d="M716,1986 C730,1996 770,1996 788,1986" style="stroke:#fff;stroke-width:3"/>
<path class="l" d="M716,1975 C735,1984 760,1984 775,1977" style="stroke:#fff;stroke-width:2.5"/>
<ellipse class="w" cx="822" cy="2078" rx="33" ry="36" transform="rotate(20 822 2078)"/>
<ellipse class="l" cx="826" cy="2081" rx="20" ry="24" transform="rotate(20 826 2081)"/>
<path class="t" d="M800,2070 C805,2060 815,2052 825,2052"/>
<circle class="f" cx="826" cy="2080" r="1.5"/>
<path class="l" d="M742,2085 L709,2117"/>
</g>
<g id="inset">
<rect x="41" y="1860" width="368" height="365" style="fill:none;stroke:#000;stroke-width:6"/>
<path class="w" d="M236,1920 L236,2040 C237,2050 240,2058 246,2066 C255,2070 265,2071 274,2070 L334,2095 L359,2042 L295,2006 L295,1920 Z"/>
<ellipse class="w" cx="265" cy="1919" rx="31" ry="18"/>
<ellipse class="l" cx="266" cy="1920" rx="18" ry="10"/>
<path class="t" d="M256,1912 L256,1925"/>
<path class="l" d="M236,1938 C250,1948 282,1948 295,1938 M236,1946 C250,1956 282,1956 295,1946 M236,1954 C250,1964 282,1964 295,1954 M236,1962 C250,1972 282,1972 295,1962 M236,1970 C250,1980 282,1980 295,1970 M236,1979 C250,1988 282,1988 295,1979"/>
<path class="t" d="M269,2023 C272,2015 278,2009 283,2007"/>
<path class="t" d="M243,2044 C250,2058 262,2066 274,2070"/>
<ellipse class="w" cx="358" cy="2075" rx="26" ry="33" transform="rotate(15 358 2075)"/>
<ellipse class="l" cx="362" cy="2077" rx="16" ry="21" transform="rotate(15 362 2077)"/>
<path class="t" d="M340,2060 C338,2075 340,2090 348,2100"/>
<ellipse class="l" cx="263" cy="2096" rx="16" ry="9" style="stroke-width:6.5"/>
<path class="w" d="M236,2147 C232,2155 236,2165 245,2170 L262,2180 C270,2188 285,2188 294,2182 C298,2175 296,2168 290,2160 L280,2145 C270,2140 250,2138 236,2147 Z"/>
<path class="w" d="M250,2124 C250,2118 256,2116 262,2116 C270,2116 275,2120 275,2126 L275,2146 C270,2152 254,2152 250,2146 Z"/>
<ellipse class="t" cx="262" cy="2122" rx="5" ry="3"/>
<path class="t" d="M251,2132 L274,2132 M251,2138 L274,2138 M251,2144 L274,2144"/>
<path class="t" d="M258,2165 C265,2168 272,2172 278,2176"/>
<path class="l" d="M140,1932 L231,1947 M130,2064 L239,2093 M130,2156 L226,2153"/>
</g>
<g id="p6">
<path class="w" d="M586,2361 L792,2218 C800,2216 806,2222 804,2230 L803,2237 L597,2380 Z" style="stroke-width:5"/>
<path class="l" d="M745.0,2250.6 Q743.5,2261.1 756.0,2269.6 M753.0,2245.0 Q751.5,2255.5 764.0,2264.1 M761.0,2239.4 Q759.5,2250.0 772.0,2258.5 M769.0,2233.8 Q767.5,2244.4 780.0,2253.0 M777.0,2228.3 Q775.5,2238.8 788.0,2247.4 M785.0,2222.7 Q783.5,2233.3 796.0,2241.9 M792.0,2217.8 Q790.5,2228.4 803.0,2237.0" style="stroke-width:3.5"/>
<path class="w" d="M555,2379 L564,2362 L571,2358 L587,2362 L597,2379 L597,2400 L584,2409 L569,2408 L556,2395 Z" style="stroke-width:5"/>
<path class="t" d="M564,2364 L577,2372 L594,2382 M577,2372 L579,2387 M585,2388 L584,2405 M579,2387 L585,2388 L597,2385"/>
<path class="l" d="M616,2272 L652,2307"/>
</g>
<g id="p4">
<path class="w" d="M1103,2156 C1104,2150 1110,2148 1117,2148 C1125,2148 1130,2152 1130,2158 L1128,2174 C1124,2180 1106,2180 1102,2174 Z"/>
<path class="f" d="M1102,2162 C1108,2170 1124,2170 1129,2162 L1128,2174 C1124,2180 1106,2180 1102,2174 Z"/>
<path class="t" d="M1112,2156 C1116,2152 1122,2156 1118,2160"/>
<path class="l" d="M1133,2173 L1160,2191"/>
<path class="t" d="M1118,2082 L1117,2147" style="stroke-width:3.5"/>
</g>

<!-- 10_dash_long.svg -->
<g id="dashes">
<path d="M216.0,137.0 L161.0,112.0" style="fill:none;stroke:#000;stroke-width:5;stroke-linecap:butt;stroke-linejoin:miter"/>
<path d="M161.0,112.0 L163.0,186.0" style="fill:none;stroke:#000;stroke-width:5;stroke-linecap:butt;stroke-linejoin:miter"/>
<path d="M163.0,203.0 L166.0,300.0" style="fill:none;stroke:#000;stroke-width:5;stroke-linecap:butt;stroke-linejoin:miter"/>
<path d="M166.0,300.0 L210.5,320.5 M225.9,327.6 L270.4,348.1 M285.9,355.2 L330.4,375.7 M345.8,382.8 L390.3,403.3 M405.8,410.4 L450.3,430.9 M465.7,438.1 L510.2,458.6 M525.7,465.7 L570.2,486.2 M585.6,493.3 L630.1,513.8 M645.6,520.9 L690.1,541.4 M705.5,548.5 L750.0,569.0" style="fill:none;stroke:#000;stroke-width:5;stroke-linecap:butt;stroke-linejoin:miter"/>
<path d="M750.0,569.0 L751.0,632.0" style="fill:none;stroke:#000;stroke-width:5;stroke-linecap:butt;stroke-linejoin:miter"/>
<path d="M751.0,650.0 L751.4,722.0 M751.6,739.0 L752.0,811.0 M752.0,811.0 L720.0,798.0" style="fill:none;stroke:#000;stroke-width:5;stroke-linecap:butt;stroke-linejoin:miter"/>
<path class="l" d="M664,771 L707,794"/>
<path d="M845.0,436.0 L898.0,458.0" style="fill:none;stroke:#000;stroke-width:5;stroke-linecap:butt;stroke-linejoin:miter"/>
<path d="M899,458 L899,373 M899,351 L900,283 M900,264 L900,193 M900,175 L900,116 L974,152" style="fill:none;stroke:#000;stroke-width:5;stroke-linejoin:miter"/>
<path d="M943,608.7 L986.6,634.8 M999.6,643.5 L1040.9,667.4 M1056,678.3 L1099.7,704.4 M1114.9,715.3 L1158.4,741.4 M1173.6,750.1 L1217.1,778.4 M1234.5,787 L1280.2,815.3 M1295.4,826.2 L1336.7,850.1 M1349.8,858.8 L1391.1,884.9 M1404.2,891.5 L1445.5,917.6 M1460.7,926.3 L1506.4,952.4 M1517.3,961.1 L1565.1,989.3 M1578.2,998 L1621.7,1022 M1630.4,1028.5 L1660.8,1045.9 M1669.5,632.6 L1669.5,674 M1668,693.5 L1667.4,761 M1666.5,778.4 L1665.2,821.9 M1665.2,832.7 L1664.3,878.4 M1664.3,893.6 L1663,939.3 M1663,952.4 L1661.7,995.9 M1661.7,1008.9 L1660.8,1045.9 M943,608.7 L943,652.2 M942.2,665.3 L941.7,713.1 M941.7,726.2 L940.9,778.4 M940.9,791.4 L939.6,850.1 M939.6,869.7 L938.7,911 M938.7,926.3 L937.8,976.3 M937.8,993.7 L937.5,1017 M936.5,1092 L936.3,1136 M936,1152 L935.5,1195" style="fill:none;stroke:#000;stroke-width:5;stroke-linecap:square"/>
<path d="M932.0,1320.0 L931.5,1336.0 M931.2,1348.0 L930.7,1364.0 M930.3,1376.0 L929.8,1392.0 M929.5,1404.0 L929.0,1420.0" style="fill:none;stroke:#000;stroke-width:5;stroke-linecap:butt;stroke-linejoin:miter"/>
<path d="M1820,358.6 L1820,390 M1819.5,405 L1820,441 L1792,458 M1773.6,469 L1739,488.4 M1727,496 L1692,515" style="fill:none;stroke:#000;stroke-width:5;stroke-linejoin:miter"/>
<path d="M1671.0,577.0 L1723.0,613.0" style="fill:none;stroke:#000;stroke-width:5;stroke-linecap:butt;stroke-linejoin:miter"/>
<path d="M1735.0,621.0 L1748.0,628.0" style="fill:none;stroke:#000;stroke-width:5;stroke-linecap:butt;stroke-linejoin:miter"/>
<path d="M1196.0,529.0 L1177.0,541.0" style="fill:none;stroke:#000;stroke-width:5;stroke-linecap:butt;stroke-linejoin:miter"/>
<path d="M1155.0,554.0 L1118.0,574.0" style="fill:none;stroke:#000;stroke-width:5;stroke-linecap:butt;stroke-linejoin:miter"/>
<path d="M1860,1476.5 L1803.5,1512 M1789,1522 L1743.4,1554.5 M1727,1566 L1678.4,1601.6 M1662,1611 L1607,1652 M1589,1665 L1534,1704 M1516,1717 L1470.5,1749 M1452.7,1762 L1402.3,1798 M1379.6,1814 L1321,1855" style="fill:none;stroke:#000;stroke-width:5"/>
<path d="M1047,2050 L998,2083 M984,2093 L940.5,2124 M927,2135 L881,2170.5 M857,2187 L813,2217" style="fill:none;stroke:#000;stroke-width:5"/>
<path d="M629.0,1216.0 L629.0,1230.7 M629.0,1240.7 L629.0,1255.3 M629.0,1265.3 L629.0,1280.0" style="fill:none;stroke:#000;stroke-width:3.5;stroke-linecap:butt;stroke-linejoin:miter"/>
<path d="M749.0,1886.0 L749.0,1901.0 M749.0,1913.0 L749.0,1928.0 M749.0,1940.0 L749.0,1955.0" style="fill:none;stroke:#000;stroke-width:3;stroke-linecap:butt;stroke-linejoin:miter"/>
</g>

<text transform="translate(404.9,53.0) scale(0.569,1)" style="font-size:54.4px;stroke:#000;stroke-width:0.9">2 </text><path d="M789,-688 L931,-688 L931,0 L789,0 L789,-520 L631,-430 L631,-560 Z" transform="translate(404.9,53.0) scale(0.03098,0.05444)" style="fill:#000;stroke:#000;stroke-width:16.5;stroke-linejoin:round"/>
<text transform="translate(616.7,133.5) scale(0.721,1)" style="font-size:50.8px;stroke:#000;stroke-width:0.9">20</text>
<text transform="translate(87.8,733.0) scale(0.641,1)" style="font-size:53.8px;stroke:#000;stroke-width:0.9"> 4</text><path d="M233,-688 L375,-688 L375,0 L233,0 L233,-520 L75,-430 L75,-560 Z" transform="translate(87.8,733.0) scale(0.03448,0.05378)" style="fill:#000;stroke:#000;stroke-width:16.7;stroke-linejoin:round"/>
<text transform="translate(364.9,888.5) scale(0.626,1)" style="font-size:53.7px;stroke:#000;stroke-width:0.9"> 9</text><path d="M233,-688 L375,-688 L375,0 L233,0 L233,-520 L75,-430 L75,-560 Z" transform="translate(364.9,888.5) scale(0.03360,0.05367)" style="fill:#000;stroke:#000;stroke-width:16.8;stroke-linejoin:round"/>
<text transform="translate(1607.8,124.0) scale(0.655,1)" style="font-size:54.4px;stroke:#000;stroke-width:0.9"> 2</text><path d="M233,-688 L375,-688 L375,0 L233,0 L233,-520 L75,-430 L75,-560 Z" transform="translate(1607.8,124.0) scale(0.03568,0.05444)" style="fill:#000;stroke:#000;stroke-width:16.5;stroke-linejoin:round"/>
<text transform="translate(1713.8,145.5) scale(0.677,1)" style="font-size:52.3px;stroke:#000;stroke-width:0.9"> 8</text><path d="M233,-688 L375,-688 L375,0 L233,0 L233,-520 L75,-430 L75,-560 Z" transform="translate(1713.8,145.5) scale(0.03536,0.05226)" style="fill:#000;stroke:#000;stroke-width:17.2;stroke-linejoin:round"/>
<text transform="translate(1896.5,218.0) scale(0.721,1)" style="font-size:55.2px;stroke:#000;stroke-width:0.9"> 7</text><path d="M233,-688 L375,-688 L375,0 L233,0 L233,-520 L75,-430 L75,-560 Z" transform="translate(1896.5,218.0) scale(0.03980,0.05523)" style="fill:#000;stroke:#000;stroke-width:16.3;stroke-linejoin:round"/>
<text transform="translate(1895.8,309.5) scale(0.679,1)" style="font-size:50.8px;stroke:#000;stroke-width:0.9"> 6</text><path d="M233,-688 L375,-688 L375,0 L233,0 L233,-520 L75,-430 L75,-560 Z" transform="translate(1895.8,309.5) scale(0.03455,0.05085)" style="fill:#000;stroke:#000;stroke-width:17.7;stroke-linejoin:round"/>
<text transform="translate(1884.9,587.5) scale(0.612,1)" style="font-size:54.4px;stroke:#000;stroke-width:0.9"> 5</text><path d="M233,-688 L375,-688 L375,0 L233,0 L233,-520 L75,-430 L75,-560 Z" transform="translate(1884.9,587.5) scale(0.03330,0.05444)" style="fill:#000;stroke:#000;stroke-width:16.5;stroke-linejoin:round"/>
<text transform="translate(1163.8,694.4) scale(0.662,1)" style="font-size:52.2px;stroke:#000;stroke-width:0.9"> 3</text><path d="M233,-688 L375,-688 L375,0 L233,0 L233,-520 L75,-430 L75,-560 Z" transform="translate(1163.8,694.4) scale(0.03455,0.05219)" style="fill:#000;stroke:#000;stroke-width:17.2;stroke-linejoin:round"/>
<text transform="translate(492.9,990.4) scale(0.612,1)" style="font-size:55.1px;stroke:#000;stroke-width:0.9"> 0</text><path d="M233,-688 L375,-688 L375,0 L233,0 L233,-520 L75,-430 L75,-560 Z" transform="translate(492.9,990.4) scale(0.03373,0.05508)" style="fill:#000;stroke:#000;stroke-width:16.3;stroke-linejoin:round"/>
<text transform="translate(1471.9,1044.4) scale(0.612,1)" style="font-size:55.9px;stroke:#000;stroke-width:0.9">5</text>
<text transform="translate(513.2,1182.4) scale(0.638,1)" style="font-size:53.6px;stroke:#000;stroke-width:0.9">3</text>
<text transform="translate(984.8,1250.0) scale(0.685,1)" style="font-size:51.6px;stroke:#000;stroke-width:0.9">2</text>
<text transform="translate(1176.6,1611.0) scale(0.400,1)" style="font-size:53.8px;stroke:#000;stroke-width:0.9"> </text><path d="M233,-688 L375,-688 L375,0 L233,0 L233,-520 L75,-430 L75,-560 Z" transform="translate(1176.6,1611.0) scale(0.02151,0.05378)" style="fill:#000;stroke:#000;stroke-width:16.7;stroke-linejoin:round"/>
<text transform="translate(685.9,2142.5) scale(0.642,1)" style="font-size:53.7px;stroke:#000;stroke-width:0.9">8</text>
<text transform="translate(592.8,2273.5) scale(0.634,1)" style="font-size:52.3px;stroke:#000;stroke-width:0.9">6</text>
<text transform="translate(1162.5,2215.0) scale(0.661,1)" style="font-size:48.0px;stroke:#000;stroke-width:0.9">4</text>
<text transform="translate(84.7,1935.0) scale(0.825,1)" style="font-size:44.4px;stroke:#000;stroke-width:0.9">22</text>
<text transform="translate(77.7,2073.0) scale(0.819,1)" style="font-size:44.4px;stroke:#000;stroke-width:0.9">24</text>
<text transform="translate(74.7,2168.5) scale(0.805,1)" style="font-size:46.5px;stroke:#000;stroke-width:0.9">23</text>
<text transform="translate(1814.5,2404.5) scale(0.792,1)" style="font-size:45.2px;stroke:#000;stroke-width:0.9">4 0  </text><path d="M789,-688 L931,-688 L931,0 L789,0 L789,-520 L631,-430 L631,-560 Z" transform="translate(1814.5,2404.5) scale(0.03579,0.04520)" style="fill:#000;stroke:#000;stroke-width:19.9;stroke-linejoin:round"/><path d="M1901,-688 L2043,-688 L2043,0 L1901,0 L1901,-520 L1743,-430 L1743,-560 Z" transform="translate(1814.5,2404.5) scale(0.03579,0.04520)" style="fill:#000;stroke:#000;stroke-width:19.9;stroke-linejoin:round"/><path d="M2458,-688 L2600,-688 L2600,0 L2458,0 L2458,-520 L2300,-430 L2300,-560 Z" transform="translate(1814.5,2404.5) scale(0.03579,0.04520)" style="fill:#000;stroke:#000;stroke-width:19.9;stroke-linejoin:round"/>
</svg>
</body></html>
